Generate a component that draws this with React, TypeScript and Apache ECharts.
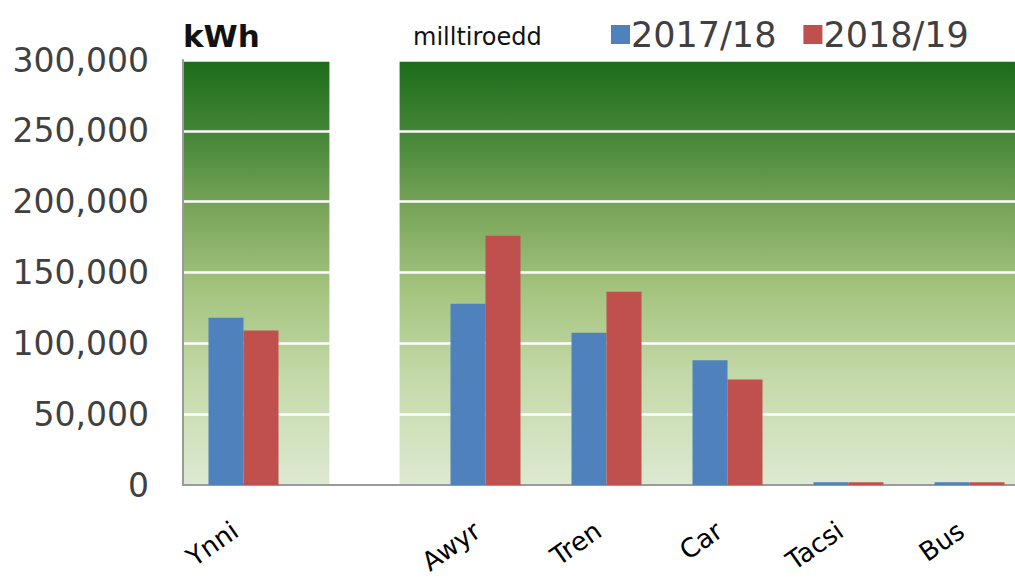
import React, { useEffect, useRef } from "react";
import * as echarts from "echarts";

const categories = ["Ynni", "", "Awyr", "Tren", "Car", "Tacsi", "Bus"];
const series1718 = [118000, null, 128000, 107500, 88000, 2000, 2000];
const series1819 = [109000, null, 176000, 136500, 74500, 2000, 2000];
const gapData = [[1, 300000]];
const yTicks = { min: 0, max: 300000, interval: 50000 };

const FONT = "DejaVu Sans";

export default function App() {
  const ref = useRef<HTMLDivElement>(null);
  useEffect(() => {
    const chart = echarts.init(ref.current!, null, { renderer: "svg" });
    chart.setOption({
      animation: false,
      title: [
        {
          text: "kWh",
          left: 178,
          top: 15,
          textStyle: { fontFamily: FONT, fontSize: 31, fontWeight: "bold", color: "#111" },
        },
        {
          text: "milltiroedd",
          left: 408,
          top: 20,
          textStyle: { fontFamily: FONT, fontSize: 24, fontWeight: "normal", color: "#111" },
        },
      ],
      legend: {
        left: 606,
        top: 12,
        itemWidth: 19,
        itemHeight: 19,
        itemGap: 27,
        icon: "rect",
        textStyle: { fontFamily: FONT, fontSize: 35, color: "#404040", padding: [0, 0, 0, -4] },
        data: ["2017/18", "2018/19"],
      },
      grid: {
        left: 183,
        top: 60,
        bottom: 96,
        right: 0,
        outerBoundsMode: "none",
        containLabel: false,
        show: true,
        borderWidth: 0,
        backgroundColor: new echarts.graphic.LinearGradient(0, 0, 0, 1, [
          { offset: 0, color: "#1b6c1a" },
          { offset: 0.17, color: "#448537" },
          { offset: 0.35, color: "#79a55a" },
          { offset: 0.55, color: "#a6c581" },
          { offset: 0.75, color: "#c4d9a9" },
          { offset: 1, color: "#dde9d1" },
        ]),
      },
      xAxis: {
        type: "category",
        data: categories,
        axisLine: { show: true, lineStyle: { color: "#9a9a9a", width: 2 } },
        axisTick: { show: false },
        axisLabel: {
          interval: 0,
          rotate: 35,
          margin: 37,
          fontFamily: FONT,
          fontSize: 26,
          color: "#000",
          padding: [0, 10, 0, 0],
        },
      },
      yAxis: {
        type: "value",
        min: yTicks.min,
        max: yTicks.max,
        interval: yTicks.interval,
        axisLine: { show: true, lineStyle: { color: "#9a9a9a", width: 2 } },
        axisTick: { show: false },
        splitLine: { show: true, lineStyle: { color: "#ffffff", width: 2.5 } },
        axisLabel: {
          margin: 34,
          fontFamily: FONT,
          fontSize: 33,
          color: "#404040",
          formatter: (v: number) => v.toLocaleString("en-US"),
        },
      },
      series: [
        {
          name: "2017/18",
          type: "bar",
          data: series1718,
          barWidth: 35,
          barGap: "0%",
          itemStyle: { color: "#4f81bd" },
          z: 3,
        },
        {
          name: "2018/19",
          type: "bar",
          data: series1819,
          barWidth: 35,
          itemStyle: { color: "#c0504d" },
          z: 3,
        },
        {
          type: "custom",
          data: gapData,
          z: 1,
          silent: true,
          renderItem: (params: any, api: any) => {
            const top = api.coord([api.value(0), api.value(1)]);
            const bottom = api.coord([api.value(0), 0]);
            const size = api.size([1, 0]);
            const w = size[0] * 0.58;
            return {
              type: "rect",
              shape: { x: top[0] - w / 2, y: top[1] - 1, width: w, height: bottom[1] - top[1] },
              style: { fill: "#ffffff" },
            };
          },
        },
      ],
    });
    return () => chart.dispose();
  }, []);
  return (
    <div
      ref={ref}
      style={{ position: "fixed", left: 0, top: 0, width: 1030, height: 581, background: "#fff" }}
    />
  );
}
